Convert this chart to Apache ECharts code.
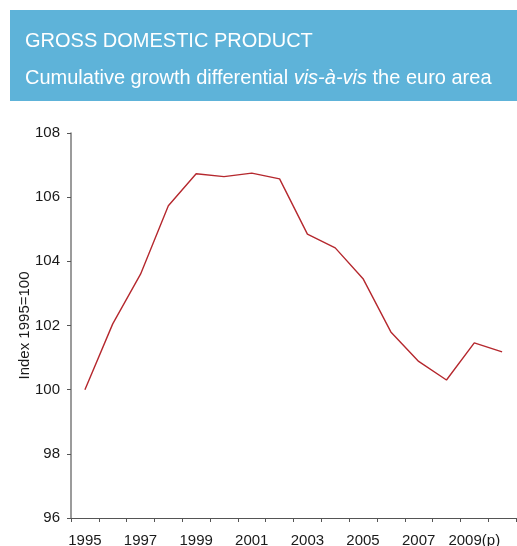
<!DOCTYPE html>
<html>
<head>
<meta charset="utf-8">
<script src="https://cdn.jsdelivr.net/npm/echarts@6/dist/echarts.min.js"></script>
<style>
  html, body { margin: 0; padding: 0; background: #ffffff; }
  #chart { width: 517px; height: 546px; }
</style>
</head>
<body>
<div id="chart"></div>
<script>
// Years on the category axis (last two are projections)
const years = ['1995', '1996', '1997', '1998', '1999', '2000', '2001', '2002',
               '2003', '2004', '2005', '2006', '2007', '2008', '2009(p)', '2010(p)'];

// GDP index relative to the euro area, 1995 = 100
const gdpIndex = [100.0, 102.05, 103.6, 105.73, 106.73, 106.64, 106.75, 106.57,
                  104.85, 104.42, 103.46, 101.8, 100.88, 100.3, 101.46, 101.18];

// Value axis range
const yMin = 96;
const yMax = 108;
const yStep = 2;

const titleText = 'GROSS DOMESTIC PRODUCT';
const yAxisName = 'Index 1995=100';

const font = '"Liberation Sans", Arial, sans-serif';

const chart = echarts.init(document.getElementById('chart'), null, { renderer: 'canvas' });

chart.setOption({
  animation: false,
  backgroundColor: '#ffffff',
  textStyle: { fontFamily: font },
  graphic: [
    {
      type: 'rect',
      shape: { x: 10, y: 10, width: 507, height: 91 },
      style: { fill: '#5eb3d9' },
      silent: true
    },
    {
      type: 'text',
      x: 25, y: 41,
      style: {
        text: titleText,
        fill: '#ffffff',
        font: '20px ' + font,
        verticalAlign: 'middle',
        align: 'left'
      }
    },
    {
      type: 'text',
      x: 25, y: 78,
      style: {
        text: '{n|Cumulative growth differential }{i|vis-à-vis}{n| the euro area}',
        fill: '#ffffff',
        verticalAlign: 'middle',
        align: 'left',
        rich: {
          n: { fontSize: 20, fontFamily: font, fill: '#ffffff', color: '#ffffff' },
          i: { fontSize: 20, fontFamily: font, fontStyle: 'italic', fill: '#ffffff', color: '#ffffff' }
        }
      }
    }
  ],
  grid: { left: 71, right: 1, top: 133, bottom: 28, containLabel: false, outerBoundsMode: 'none' },
  xAxis: {
    type: 'category',
    data: years,
    boundaryGap: true,
    axisLine: { lineStyle: { color: '#555555', width: 1 } },
    axisTick: { show: true, length: 4, interval: 0, lineStyle: { color: '#555555' } },
    axisLabel: { interval: 1, color: '#1a1a1a', fontSize: 15, margin: 15, fontFamily: font },
    splitLine: { show: false }
  },
  yAxis: {
    type: 'value',
    min: yMin,
    max: yMax,
    interval: yStep,
    name: yAxisName,
    nameLocation: 'middle',
    nameGap: 39,
    nameRotate: 90,
    nameMoveOverlap: false,
    nameTextStyle: { color: '#1a1a1a', fontSize: 15, fontFamily: font },
    axisLine: { show: true, lineStyle: { color: '#7a7a7a', width: 1.5 } },
    axisTick: { show: true, length: 4, lineStyle: { color: '#555555' } },
    axisLabel: { color: '#1a1a1a', fontSize: 15, margin: 11, fontFamily: font },
    splitLine: { show: false }
  },
  series: [
    {
      type: 'line',
      data: gdpIndex,
      symbol: 'none',
      lineStyle: { color: '#b5282e', width: 1.4 },
      itemStyle: { color: '#b5282e' }
    }
  ]
});
</script>
</body>
</html>
